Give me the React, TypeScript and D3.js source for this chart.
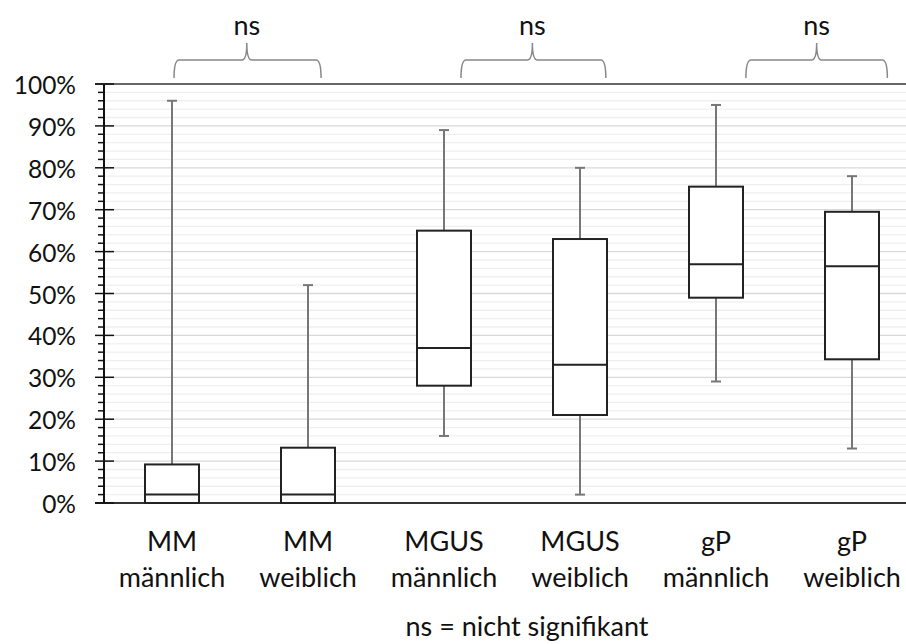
import React from "react";
import * as d3 from "d3";

const categoriesTop = ["MM", "MM", "MGUS", "MGUS", "gP", "gP"];
const categoriesBottom = ["männlich", "weiblich", "männlich", "weiblich", "männlich", "weiblich"];
const minValues = [0, 0, 16, 2, 29, 13];
const q1Values = [0, 0, 28, 21, 49, 34.3];
const medianValues = [2, 2, 37, 33, 57, 56.5];
const q3Values = [9.2, 13.2, 65, 63, 75.5, 69.5];
const maxValues = [96, 52, 89, 80, 95, 78];
const yTickValues = [0, 10, 20, 30, 40, 50, 60, 70, 80, 90, 100];
const minorTickValues = d3.range(0, 101, 2);
// significance brackets in category-index units
const bracketStart = [0.015, 2.125, 4.22];
const bracketEnd = [1.096, 3.19, 5.26];
const bracketMid = [0.55, 2.65, 4.74];
const bracketLabels = ["ns", "ns", "ns"];
const footnote = "ns = nicht signifikant";

const W = 906;
const H = 644;
const FONT = "Lato, 'Open Sans', sans-serif";

export default function App() {
  const y = d3.scaleLinear().domain([0, 100]).range([503, 84]);
  const x = d3.scaleLinear().domain([0, 1]).range([172, 308]);
  const left = 104;
  const right = W;
  const boxW = 54;
  const capW = 10;

  const bracketPath = (x1: number, x2: number, xm: number) => {
    const yb = 60, ye = 78, yt = 43, r = 5;
    return [
      `M${x1},${ye}`,
      `Q${x1},${yb} ${x1 + r},${yb}`,
      `L${xm - r},${yb}`,
      `Q${xm},${yb} ${xm},${yt}`,
      `Q${xm},${yb} ${xm + r},${yb}`,
      `L${x2 - r},${yb}`,
      `Q${x2},${yb} ${x2},${ye}`,
    ].join(" ");
  };

  return (
    <div style={{ position: "absolute", left: 0, top: 0 }}>
      <svg width={W} height={H} style={{ display: "block", background: "#fff" }}>
        {/* minor gridlines */}
        {minorTickValues.filter((v) => v % 10 !== 0).map((v) => (
          <line key={"mg" + v} x1={left} x2={right} y1={y(v)} y2={y(v)} stroke="#efefef" strokeWidth={1.3} />
        ))}
        {yTickValues.filter((v) => v !== 0 && v !== 100).map((v) => (
          <line key={"g" + v} x1={left} x2={right} y1={y(v)} y2={y(v)} stroke="#d9d9d9" strokeWidth={1.3} />
        ))}
        {/* top border */}
        <line x1={95} x2={right} y1={y(100)} y2={y(100)} stroke="#333" strokeWidth={1.6} />
        {/* bottom axis */}
        <line x1={95} x2={right} y1={y(0)} y2={y(0)} stroke="#333" strokeWidth={2} />
        {/* y axis */}
        <line x1={left} x2={left} y1={y(100)} y2={y(0)} stroke="#111" strokeWidth={2} />
        {minorTickValues.filter((v) => v % 10 !== 0).map((v) => (
          <line key={"mt" + v} x1={98} x2={left} y1={y(v)} y2={y(v)} stroke="#111" strokeWidth={1.5} />
        ))}
        {yTickValues.map((v) => (
          <g key={"t" + v}>
            <line x1={95} x2={114} y1={y(v)} y2={y(v)} stroke="#111" strokeWidth={1.5} />
            <text x={76} y={y(v) + 10} textAnchor="end" fontFamily={FONT} fontSize={24.5} fill="#111">
              {v}%
            </text>
          </g>
        ))}
        {/* boxes */}
        {categoriesTop.map((c, i) => {
          const cx = x(i);
          return (
            <g key={"b" + i}>
              <line x1={cx} x2={cx} y1={y(maxValues[i])} y2={y(q3Values[i])} stroke="#777" strokeWidth={2} />
              <line x1={cx} x2={cx} y1={y(q1Values[i])} y2={y(minValues[i])} stroke="#777" strokeWidth={2} />
              <line x1={cx - capW / 2} x2={cx + capW / 2} y1={y(maxValues[i])} y2={y(maxValues[i])} stroke="#777" strokeWidth={2} />
              <line x1={cx - capW / 2} x2={cx + capW / 2} y1={y(minValues[i])} y2={y(minValues[i])} stroke="#777" strokeWidth={2} />
              <rect x={cx - boxW / 2} y={y(q3Values[i])} width={boxW} height={y(q1Values[i]) - y(q3Values[i])} fill="#fff" stroke="#222" strokeWidth={2} />
              <line x1={cx - boxW / 2} x2={cx + boxW / 2} y1={y(medianValues[i])} y2={y(medianValues[i])} stroke="#222" strokeWidth={2} />
              <text x={cx} y={551} textAnchor="middle" fontFamily={FONT} fontSize={27} fill="#111">{c}</text>
              <text x={cx} y={587} textAnchor="middle" fontFamily={FONT} fontSize={27} fill="#111">{categoriesBottom[i]}</text>
            </g>
          );
        })}
        {/* brackets */}
        {bracketLabels.map((l, i) => (
          <g key={"br" + i}>
            <path d={bracketPath(x(bracketStart[i]), x(bracketEnd[i]), x(bracketMid[i]))} fill="none" stroke="#888" strokeWidth={1.5} />
            <text x={x(bracketMid[i])} y={35} textAnchor="middle" fontFamily={FONT} fontSize={27} fill="#111">{l}</text>
          </g>
        ))}
        <text x={527} y={636} textAnchor="middle" fontFamily={FONT} fontSize={27} fill="#111">{footnote}</text>
      </svg>
    </div>
  );
}
